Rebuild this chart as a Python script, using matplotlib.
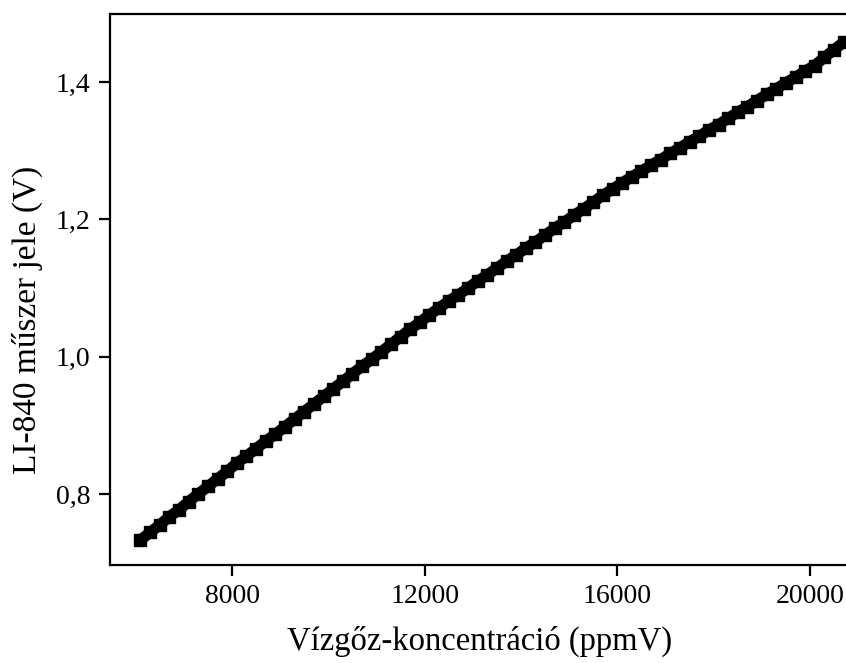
import matplotlib
matplotlib.use("Agg")
import matplotlib.pyplot as plt
from matplotlib.ticker import FuncFormatter

plt.rcParams['font.family'] = ['Liberation Serif', 'DejaVu Serif']

concentration = [6100, 6300, 6500, 6700, 6900, 7100, 7300, 7500, 7700, 7900,
                 8100, 8300, 8500, 8700, 8900, 9100, 9300, 9500, 9700, 9900,
                 10100, 10300, 10500, 10700, 10900, 11100, 11300, 11500, 11700, 11900,
                 12100, 12300, 12500, 12700, 12900, 13100, 13300, 13500, 13700, 13900,
                 14100, 14300, 14500, 14700, 14900, 15100, 15300, 15500, 15700, 15900,
                 16100, 16300, 16500, 16700, 16900, 17100, 17300, 17500, 17700, 17900,
                 18100, 18300, 18500, 18700, 18900, 19100, 19300, 19500, 19700, 19900,
                 20100, 20300, 20500, 20700]
signal = [0.733, 0.744, 0.755, 0.767, 0.777, 0.789, 0.800, 0.811, 0.822, 0.833,
          0.845, 0.855, 0.866, 0.877, 0.887, 0.898, 0.909, 0.920, 0.931, 0.942,
          0.953, 0.964, 0.975, 0.986, 0.996, 1.007, 1.018, 1.029, 1.040, 1.050,
          1.061, 1.071, 1.081, 1.090, 1.100, 1.110, 1.119, 1.129, 1.139, 1.148,
          1.158, 1.167, 1.177, 1.187, 1.196, 1.206, 1.215, 1.225, 1.235, 1.244,
          1.253, 1.262, 1.270, 1.279, 1.287, 1.296, 1.304, 1.313, 1.321, 1.330,
          1.338, 1.347, 1.356, 1.364, 1.373, 1.382, 1.390, 1.399, 1.407, 1.416,
          1.424, 1.436, 1.447, 1.458]
x_ticks = [8000, 12000, 16000, 20000]
y_ticks = [0.8, 1.0, 1.2, 1.4]

fig = plt.figure(figsize=(8.46, 6.63), dpi=100)
ax = fig.add_axes([110/846, 98/663, 740/846, 551/663])
ax.plot(concentration, signal, color='black', lw=8, marker='s', ms=8,
        mec='black', mfc='black', solid_capstyle='butt')
ax.set_xlim(5467, 20830)
ax.set_ylim(0.6966, 1.499)
ax.set_xticks(x_ticks)
ax.set_yticks(y_ticks)
ax.yaxis.set_major_formatter(FuncFormatter(lambda v, p: f"{v:.1f}".replace('.', ',')))
ax.xaxis.set_major_formatter(FuncFormatter(lambda v, p: f"{int(v)}"))
for s in ax.spines.values():
    s.set_linewidth(1.6)
ax.tick_params(direction='out', length=8, width=1.6, labelsize=20, pad=6)
ax.set_xlabel('Vízgőz-koncentráció (ppmV)', fontsize=23.5, labelpad=12)
ax.set_ylabel('LI-840 műszer jele (V)', fontsize=24)
ax.yaxis.set_label_coords(-0.09, 0.445)
fig.savefig('out.png', dpi=100)
